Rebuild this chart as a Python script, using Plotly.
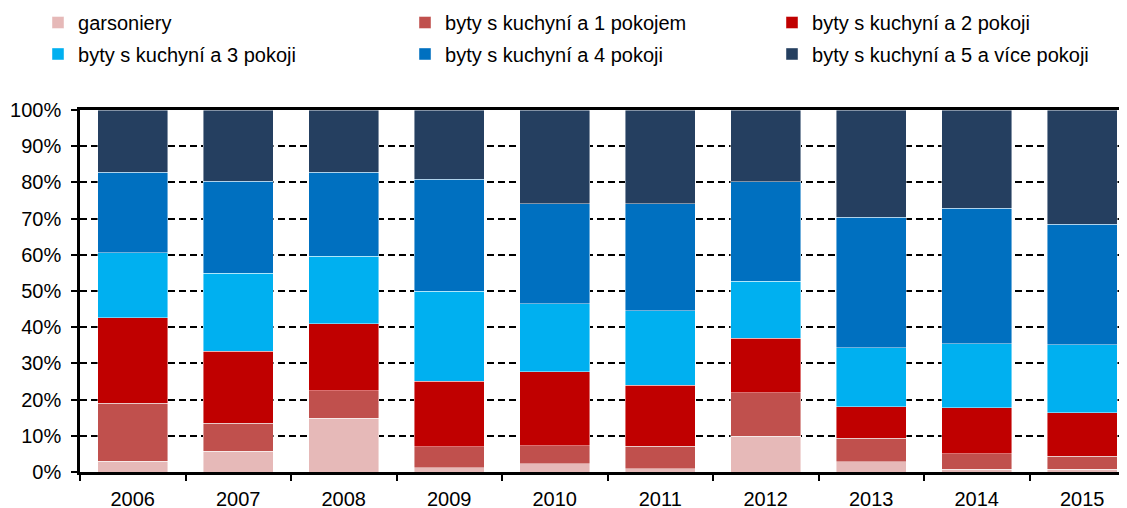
import plotly.graph_objects as go

years = ["2006", "2007", "2008", "2009", "2010", "2011", "2012", "2013", "2014", "2015"]

garsoniery = [3.0, 5.8, 14.9, 1.2, 2.3, 0.9, 9.9, 2.8, 0.8, 0.8]
pokoj1 = [16.0, 7.7, 7.5, 5.8, 5.0, 6.2, 12.0, 6.5, 4.2, 3.6]
pokoje2 = [23.6, 19.8, 18.5, 18.1, 20.4, 16.9, 15.1, 8.7, 12.8, 11.9]
pokoje3 = [18.0, 21.6, 18.7, 24.9, 18.8, 20.5, 15.7, 16.3, 17.6, 18.8]
pokoje4 = [22.2, 25.4, 23.2, 30.9, 27.6, 29.6, 27.5, 36.1, 37.4, 33.4]
pokoje5 = [17.2, 19.7, 17.2, 19.1, 25.9, 25.9, 19.8, 29.6, 27.2, 31.5]

names = [
    "garsoniery",
    "byty s kuchyní a 1 pokojem",
    "byty s kuchyní a 2 pokoji",
    "byty s kuchyní a 3 pokoji",
    "byty s kuchyní a 4 pokoji",
    "byty s kuchyní a 5 a více pokoji",
]
series = [garsoniery, pokoj1, pokoje2, pokoje3, pokoje4, pokoje5]
colors = ["#E6B9B8", "#C0504D", "#C00000", "#00B0F0", "#0070C0", "#253F60"]
legends = ["legend", "legend", "legend", "legend2", "legend2", "legend2"]

FONT = "Liberation Sans, Arial, sans-serif"

fig = go.Figure()
for name, vals, col, lg in zip(names, series, colors, legends):
    fig.add_trace(go.Bar(
        x=years, y=vals, name=name, legend=lg,
        marker=dict(color=col, line=dict(color="rgba(255,255,255,0.55)", width=0.8)),
        width=0.66,
    ))

leg_common = dict(
    orientation="h", xanchor="left", yanchor="middle",
    font=dict(family=FONT, size=20, color="#000000"),
    bgcolor="rgba(0,0,0,0)", borderwidth=0,
    entrywidth=322, entrywidthmode="pixels",
    itemwidth=30, traceorder="normal",
)

fig.update_layout(
    width=1127, height=508,
    margin=dict(l=72, r=0, t=102, b=44, autoexpand=False),
    paper_bgcolor="white", plot_bgcolor="white",
    barmode="stack", bargap=0.34,
    font=dict(family=FONT, size=20, color="#000000"),
    legend=dict(x=-0.0398, y=1.2417, **leg_common),
    legend2=dict(x=-0.0398, y=1.1548, **leg_common),
    xaxis=dict(
        type="category", range=[-0.5, 9.5],
        showline=True, linecolor="black", linewidth=2.5, mirror=True,
        ticks="outside", tickson="boundaries", ticklen=6, tickwidth=2, tickcolor="black",
        showgrid=False, ticklabelstandoff=7,
        tickfont=dict(family=FONT, size=20, color="black"),
    ),
    yaxis=dict(
        range=[0, 100], dtick=10, ticksuffix="%",
        showline=True, linecolor="black", linewidth=2.5,
        ticks="outside", ticklen=6, tickwidth=2, tickcolor="black",
        showgrid=True, gridcolor="black", gridwidth=1.6, griddash="7px,4px",
        zeroline=False, ticklabelstandoff=6,
        tickfont=dict(family=FONT, size=20, color="black"),
    ),
)

fig.write_html("out.html")
